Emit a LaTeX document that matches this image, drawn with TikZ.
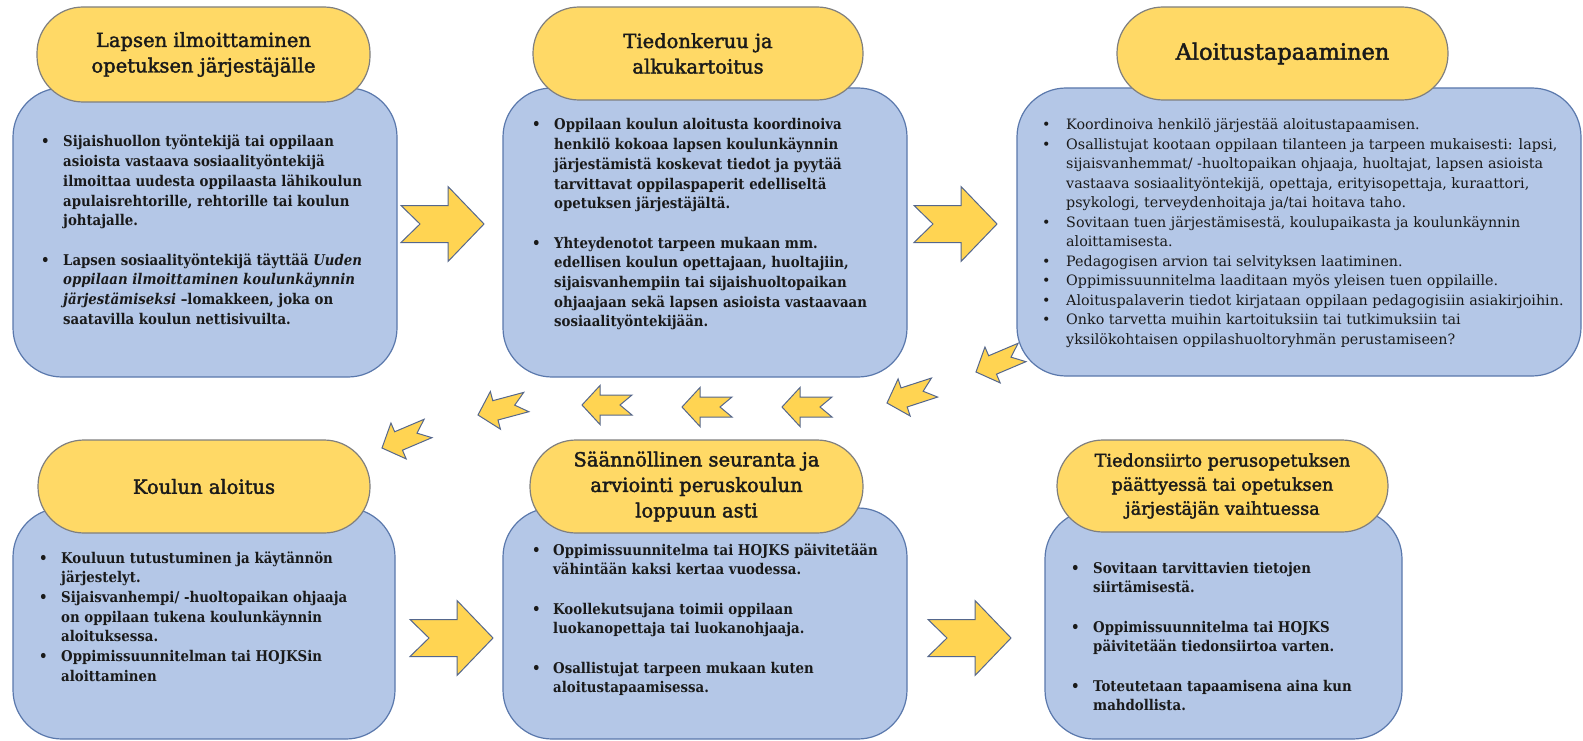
\documentclass[tikz,border=0pt]{standalone}
\usepackage{fontspec}
\setmainfont{DejaVu Serif}
\newfontfamily\bodyf[FakeStretch=0.9]{DejaVu Serif}
\newfontfamily\titlef[FakeBold=2]{DejaVu Serif}
\usetikzlibrary{decorations.pathmorphing}

\definecolor{boxfill}{HTML}{B4C7E7}
\definecolor{boxline}{HTML}{5A78AC}
\definecolor{pillfill}{HTML}{FFD966}
\definecolor{pillline}{HTML}{7F7F7F}
\definecolor{arrfill}{HTML}{FFD452}
\definecolor{arrline}{HTML}{55678C}
\definecolor{ink}{HTML}{1A1A1A}

\newlength\bind
\newlength\hoffs
\newlength\hwid
\newcommand\itm[1]{\par\hangindent=\bind\hangafter=1\noindent\makebox[\bind][l]{\kern1pt•}#1}
\newcommand\gapline{\par\vskip\baselineskip}
\newcommand\bodyfont{\fontsize{14.8}{19.7}\bodyf\bfseries}

\tikzset{
  bluebox/.style={draw=boxline, fill=boxfill, line width=1.2pt, rounded corners=49pt, inner sep=0},
  pill/.style={draw=pillline, fill=pillfill, line width=1.2pt, rounded corners=46pt, inner sep=0,
    align=center, text=ink, font=\fontsize{19.5}{25.5}\titlef},
  body/.style={anchor=base west, inner sep=0, text=ink, font=\bodyfont},
  bodyreg/.style={anchor=base west, inner sep=0, text=ink, font=\fontsize{14.3}{19.5}\selectfont},
  arrowsty/.style={draw=arrline, fill=arrfill, line width=1pt, line join=miter},
  wave/.style={draw=red, line width=0.6pt, decorate, decoration={snake, amplitude=0.9pt, segment length=3pt}},
  bigarr/.pic={\draw[arrowsty] (0,0) -- (-36,-37.5) -- (-36,-18.5) -- (-83,-18.5) -- (-64,0)
     -- (-83,18.5) -- (-36,18.5) -- (-36,37.5) -- cycle;},
  smallarr/.pic={\draw[arrowsty] (0,0) -- (-18,-19.5) -- (-18,-10) -- (-50,-10) -- (-38,0)
     -- (-50,10) -- (-18,10) -- (-18,19.5) -- cycle;}
}

\begin{document}
\begin{tikzpicture}[x=1pt,y=-1pt]
\useasboundingbox (0,0) rectangle (1583,741);

% blue boxes
\node[bluebox, minimum width=384, minimum height=289] (b1) at (205,232.5) {};
\node[bluebox, minimum width=404, minimum height=289] (b2) at (705,232.5) {};
\node[bluebox, minimum width=564, minimum height=288] (b3) at (1299,232) {};
\node[bluebox, minimum width=382, minimum height=231] (b4) at (204,623.5) {};
\node[bluebox, minimum width=404, minimum height=231] (b5) at (705,623.5) {};
\node[bluebox, minimum width=357, minimum height=229] (b6) at (1223.5,624.5) {};

% titles
\node[pill, minimum width=333, minimum height=95] (p1) at (203.5,54.5) {\raisebox{-2pt}{\parbox{320pt}{\centering Lapsen ilmoittaminen\\opetuksen järjestäjälle}}};
\node[pill, minimum width=330, minimum height=93] (p2) at (698,53.5) {\raisebox{-2pt}{\parbox{320pt}{\centering Tiedonkeruu ja\\alkukartoitus}}};
\node[pill, minimum width=331, minimum height=93, font=\fontsize{22.5}{26}\titlef] (p3) at (1282.5,53.5) {Aloitustapaaminen};
\node[pill, minimum width=332, minimum height=93] (p4) at (204,486.5) {Koulun aloitus};
\node[pill, minimum width=333, minimum height=93] (p5) at (696.5,486.5) {\raisebox{-1pt}{\parbox{320pt}{\centering Säännöllinen seuranta ja\\arviointi peruskoulun\\loppuun asti}}};
\node[pill, minimum width=331, minimum height=92, font=\fontsize{17.6}{24}\titlef] (p6) at (1222.5,486) {\raisebox{-1pt}{\parbox{320pt}{\centering Tiedonsiirto perusopetuksen\\päättyessä tai opetuksen\\järjestäjän vaihtuessa}}};

% body texts
\node[body] (t1) at (40,147) {\parbox[t]{560pt}{\setlength\bind{23pt}%
\itm{Sijaishuollon työntekijä tai oppilaan\\asioista vastaava sosiaalityöntekijä\\ilmoittaa uudesta oppilaasta lähikoulun\\apulaisrehtorille, rehtorille tai koulun\\johtajalle.}\gapline
\itm{Lapsen sosiaalityöntekijä täyttää \textit{Uuden}\\\textit{oppilaan ilmoittaminen koulunkäynnin}\\\textit{järjestämiseksi} –lomakkeen, joka on\\saatavilla koulun nettisivuilta.}}};

\node[body] (t2) at (531,130) {\parbox[t]{560pt}{\setlength\bind{23pt}%
\itm{Oppilaan koulun aloitusta koordinoiva\\henkilö kokoaa lapsen koulunkäynnin\\järjestämistä koskevat tiedot ja pyytää\\tarvittavat oppilaspaperit edelliseltä\\opetuksen järjestäjältä.}\gapline
\itm{Yhteydenotot tarpeen mukaan mm.\\edellisen koulun opettajaan, huoltajiin,\\sijaisvanhempiin tai sijaishuoltopaikan\\ohjaajaan sekä lapsen asioista vastaavaan\\sosiaalityöntekijään.}}};

\node[bodyreg] (t3) at (1041,130) {\parbox[t]{600pt}{\setlength\bind{25pt}%
\itm{Koordinoiva henkilö järjestää aloitustapaamisen.}
\itm{Osallistujat kootaan oppilaan tilanteen ja tarpeen mukaisesti: lapsi,\\sijaisvanhemmat/ -huoltopaikan ohjaaja, huoltajat, lapsen asioista\\vastaava sosiaalityöntekijä, opettaja, erityisopettaja, kuraattori,\\psykologi, terveydenhoitaja ja/tai hoitava taho.}
\itm{Sovitaan tuen järjestämisestä, koulupaikasta ja koulunkäynnin\\aloittamisesta.}
\itm{Pedagogisen arvion tai selvityksen laatiminen.}
\itm{Oppimissuunnitelma laaditaan myös yleisen tuen oppilaille.}
\itm{Aloituspalaverin tiedot kirjataan oppilaan pedagogisiin asiakirjoihin.}
\itm{Onko tarvetta muihin kartoituksiin tai tutkimuksiin tai\\yksilökohtaisen oppilashuoltoryhmän perustamiseen?}}};

\node[body] (t4) at (38,563) {\parbox[t]{560pt}{\setlength\bind{23pt}%
\itm{Kouluun tutustuminen ja käytännön\\järjestelyt.}
\itm{Sijaisvanhempi/ -huoltopaikan ohjaaja\\on oppilaan tukena koulunkäynnin\\aloituksessa.}
\itm{Oppimissuunnitelman tai HOJKSin\\aloittaminen}}};

% spell-check wave under "HOJKSin"
\settowidth\hoffs{\bodyfont Oppimissuunnitelman tai }
\settowidth\hwid{\bodyfont HOJKSin}
\coordinate (w1) at ({61pt+\hoffs},-666pt);
\coordinate (w2) at ({61pt+\hoffs+\hwid},-666pt);
\draw[wave] (w1) -- (w2);

\node[body] (t5) at (531,555) {\parbox[t]{560pt}{\setlength\bind{22pt}%
\itm{Oppimissuunnitelma tai HOJKS päivitetään\\vähintään kaksi kertaa vuodessa.}\gapline
\itm{Koollekutsujana toimii oppilaan\\luokanopettaja tai luokanohjaaja.}\gapline
\itm{Osallistujat tarpeen mukaan kuten\\aloitustapaamisessa.}}};

\node[body] (t6) at (1070,573) {\parbox[t]{560pt}{\setlength\bind{23pt}%
\itm{Sovitaan tarvittavien tietojen\\siirtämisestä.}\gapline
\itm{Oppimissuunnitelma tai HOJKS\\päivitetään tiedonsiirtoa varten.}\gapline
\itm{Toteutetaan tapaamisena aina kun\\mahdollista.}}};

% big arrows
\pic (ba1) at (484,224) {bigarr};
\pic (ba2) at (997,224) {bigarr};
\pic (ba3) at (493,638) {bigarr};
\pic (ba4) at (1011,638) {bigarr};

% small return arrows (rotation on the page, so down-left = 180+angle)
\pic (sa1) [rotate=203] at (976,372) {smallarr};
\pic (sa2) [rotate=198] at (887,403) {smallarr};
\pic (sa3) [rotate=180] at (782,407) {smallarr};
\pic (sa4) [rotate=180] at (682,407) {smallarr};
\pic (sa5) [rotate=180] at (582,405) {smallarr};
\pic (sa6) [rotate=195] at (478,415) {smallarr};
\pic (sa7) [rotate=203] at (382,448) {smallarr};
\end{tikzpicture}
\end{document}
